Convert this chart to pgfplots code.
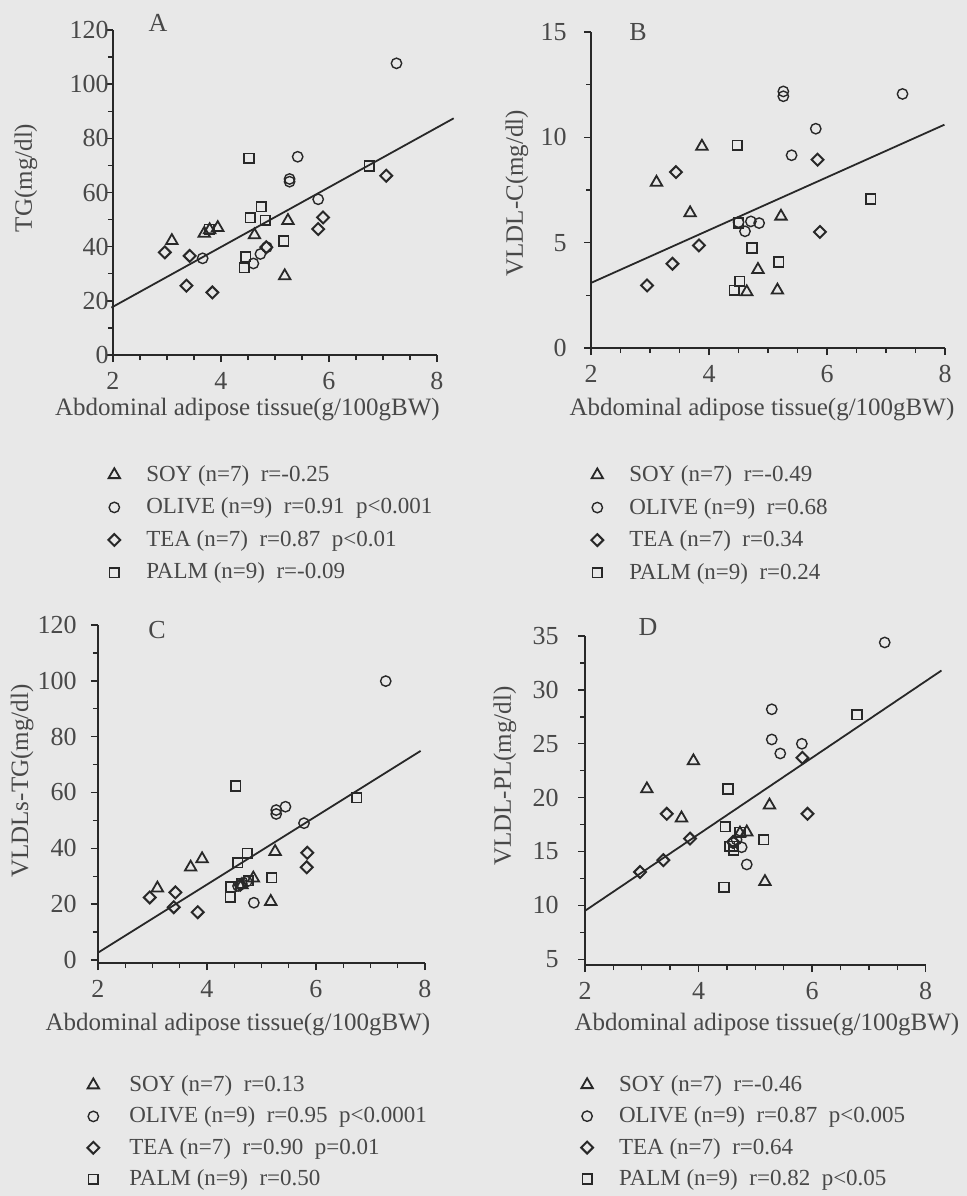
\documentclass[border=0pt]{standalone}
\usepackage{fontspec}
\setmainfont{Liberation Serif}
\usepackage{pgfplots}
\pgfplotsset{compat=1.18}
\definecolor{bg}{RGB}{232,232,232}
\definecolor{ink}{RGB}{40,40,40}
\definecolor{txt}{RGB}{72,72,72}
\pgfplotsset{
  panel/.style={
    scale only axis, axis lines=left, axis line style={-, ink, line width=0.8pt},
    tick align=outside, major tick length=3.5pt, minor tick length=2.5pt,
    tick style={ink, line width=0.7pt},
    xmin=2, xmax=8, xtick={2,4,6,8}, minor x tick num=3, minor y tick num=1,
    clip=false,
    /pgf/number format/assume math mode=true,
    ticklabel style={font=\fontsize{13}{14}\selectfont, text=txt},
    xticklabel style={yshift=-1.5pt},
    label style={font=\fontsize{12.5}{14}\selectfont, text=txt},
    xlabel={Abdominal adipose tissue(g/100gBW)},
    legend style={draw=none, fill=none, font=\fontsize{11.5}{13}\selectfont, text=txt,
      anchor=north west, row sep=6.8pt, nodes={inner sep=0pt},
      /tikz/every odd column/.append style={column sep=13pt}},
    legend cell align=left,
  },
  soy/.style={only marks, mark=triangle, mark size=3.3pt, mark options={draw=ink, line width=0.9pt}},
  olive/.style={only marks, mark=o, mark size=2.6pt, mark options={draw=ink, line width=0.7pt}},
  tea/.style={only marks, mark=square, mark size=2.1pt, mark options={draw=ink, line width=1pt, rotate=45}},
  palm/.style={only marks, mark=square, mark size=2.4pt, mark options={draw=ink, line width=0.8pt}},
  fit/.style={ink, line width=0.9pt, forget plot, mark=none},
}
\begin{document}
\begin{tikzpicture}
\path[use as bounding box, fill=bg] (0,0) rectangle (483.5pt,-598pt);

% Panel A
\begin{axis}[panel, at={(56.5pt,-177.5pt)}, anchor=south west, width=162pt, height=162.5pt,
  ymin=0, ymax=120, ytick={0,20,...,120},
  yticklabel style={inner xsep=0pt, xshift=1.5pt},
  ylabel={TG(mg/dl)},
  xlabel style={at={(axis description cs:0.415,-0.169)}, anchor=center},
  ylabel style={at={(axis description cs:-0.269,0.545)}, anchor=center, rotate=0},
  legend style={at={(axis description cs:-0.034,-0.326)}}]
\addplot[soy] coordinates {(3.09,42.2) (3.69,44.9) (3.79,46.2) (3.94,47.0) (4.62,44.3) (5.24,49.6) (5.18,29.2)};
\addlegendentry{SOY (n=7)\ \ r=-0.25}
\addplot[olive] coordinates {(7.25,107.7) (5.42,73.2) (5.27,65.0) (5.27,64.0) (5.80,57.5) (3.66,35.7) (4.60,33.8) (4.73,37.3) (4.85,39.8)};
\addlegendentry{OLIVE (n=9)\ \ r=0.91\ \ p<0.001}
\addplot[tea] coordinates {(2.96,37.9) (3.42,36.6) (3.36,25.6) (3.84,23.1) (4.84,39.8) (5.80,46.5) (5.89,50.8) (7.06,66.2)};
\addlegendentry{TEA (n=7)\ \ r=0.87\ \ p<0.01}
\addplot[palm] coordinates {(4.52,72.6) (4.75,54.8) (4.54,50.7) (4.82,49.8) (5.16,42.1) (4.46,36.3) (4.43,32.2) (6.75,69.8) (3.78,46.4)};
\addlegendentry{PALM (n=9)\ \ r=-0.09}
\addplot[fit] coordinates {(1.97,17.5) (8.31,87.4)};
\end{axis}

% Panel B
\begin{axis}[panel, at={(295.5pt,-174pt)}, anchor=south west, width=177pt, height=158pt,
  ymin=0, ymax=15, ytick={0,5,10,15},
  yticklabel style={inner xsep=8.5pt},
  ylabel={VLDL-C(mg/dl)},
  xlabel style={at={(axis description cs:0.483,-0.196)}, anchor=center},
  ylabel style={at={(axis description cs:-0.209,0.49)}, anchor=center, rotate=0},
  legend style={at={(axis description cs:-0.017,-0.358)}}]
\addplot[soy] coordinates {(3.11,7.86) (3.88,9.57) (3.68,6.41) (5.22,6.25) (4.83,3.72) (4.64,2.66) (5.16,2.74)};
\addlegendentry{SOY (n=7)\ \ r=-0.49}
\addplot[olive] coordinates {(5.26,12.18) (5.26,11.95) (7.28,12.06) (5.81,10.41) (5.40,9.15) (4.71,6.01) (4.85,5.93) (4.61,5.54) (4.50,5.97)};
\addlegendentry{OLIVE (n=9)\ \ r=0.68}
\addplot[tea] coordinates {(3.44,8.35) (2.95,2.97) (3.38,4.00) (3.83,4.87) (5.84,8.94) (5.88,5.51)};
\addlegendentry{TEA (n=7)\ \ r=0.34}
\addplot[palm] coordinates {(4.48,9.62) (4.50,5.93) (4.73,4.75) (5.18,4.08) (4.52,3.16) (4.43,2.74) (6.74,7.07)};
\addlegendentry{PALM (n=9)\ \ r=0.24}
\addplot[fit] coordinates {(2,3.09) (7.99,10.60)};
\end{axis}

% Panel C
\begin{axis}[panel, at={(49pt,-481.5pt)}, anchor=south west, width=163.5pt, height=169pt,
  ymin=-1.1, ymax=120, ytick={0,20,...,120},
  yticklabel style={inner xsep=7pt},
  ylabel={VLDLs-TG(mg/dl)},
  xlabel style={at={(axis description cs:0.428,-0.183)}, anchor=center},
  ylabel style={at={(axis description cs:-0.232,0.538)}, anchor=center, rotate=0},
  legend style={at={(axis description cs:-0.052,-0.32)}, row sep=6.2pt,
    /tikz/every odd column/.append style={column sep=15pt}}]
\addplot[soy] coordinates {(3.09,25.7) (3.70,33.2) (3.91,36.2) (5.25,38.8) (5.17,20.9) (4.85,29.3) (4.64,26.9)};
\addlegendentry{SOY (n=7)\ \ r=0.13}
\addplot[olive] coordinates {(7.28,99.9) (5.27,53.7) (5.27,52.3) (5.44,54.9) (5.78,49.0) (4.86,20.5) (4.73,28.1) (4.64,27.2) (4.57,26.5)};
\addlegendentry{OLIVE (n=9)\ \ r=0.95\ \ p<0.0001}
\addplot[tea] coordinates {(2.95,22.4) (3.42,24.2) (3.39,18.9) (3.83,17.1) (5.84,38.4) (5.83,33.2) (4.61,26.9)};
\addlegendentry{TEA (n=7)\ \ r=0.90\ \ p=0.01}
\addplot[palm] coordinates {(4.53,62.3) (4.74,38.2) (4.56,34.9) (4.44,26.3) (4.43,22.4) (5.19,29.5) (6.75,58.1) (4.64,27.5) (4.76,28.4)};
\addlegendentry{PALM (n=9)\ \ r=0.50}
\addplot[fit] coordinates {(2,2.6) (7.92,74.9)};
\end{axis}

% Panel D
\begin{axis}[panel, at={(292.5pt,-482.5pt)}, anchor=south west, width=170.3pt, height=164.5pt,
  ymin=4.47, ymax=35, ytick={5,10,...,35},
  yticklabel style={inner xsep=9.5pt},
  ylabel={VLDL-PL(mg/dl)},
  xlabel style={at={(axis description cs:0.534,-0.182)}, anchor=center},
  ylabel style={at={(axis description cs:-0.235,0.574)}, anchor=center, rotate=0},
  legend style={at={(axis description cs:-0.03,-0.322)}, row sep=6.2pt}]
\addplot[soy] coordinates {(3.09,20.8) (3.91,23.4) (3.70,18.1) (5.25,19.3) (5.17,12.2) (4.85,16.8) (4.73,16.7)};
\addlegendentry{SOY (n=7)\ \ r=-0.46}
\addplot[olive] coordinates {(7.28,34.4) (5.29,28.2) (5.29,25.4) (5.44,24.1) (5.82,25.0) (4.85,13.8) (4.76,15.4) (4.61,15.8) (4.67,16.1)};
\addlegendentry{OLIVE (n=9)\ \ r=0.87\ \ p<0.005}
\addplot[tea] coordinates {(2.97,13.1) (3.38,14.2) (3.44,18.5) (3.85,16.2) (5.83,23.7) (5.92,18.5) (4.61,15.9)};
\addlegendentry{TEA (n=7)\ \ r=0.64}
\addplot[palm] coordinates {(4.52,20.8) (6.79,27.7) (4.47,17.3) (4.55,15.5) (4.62,15.1) (5.15,16.1) (4.45,11.7) (4.73,16.8) (4.61,15.5)};
\addlegendentry{PALM (n=9)\ \ r=0.82\ \ p<0.05}
\addplot[fit] coordinates {(2,9.5) (8.28,31.8)};
\end{axis}

\node[text=txt, font=\fontsize{13}{14}\selectfont] at (79pt,-11.5pt) {A};
\node[text=txt, font=\fontsize{13}{14}\selectfont] at (319pt,-16pt) {B};
\node[text=txt, font=\fontsize{13}{14}\selectfont] at (78.5pt,-315pt) {C};
\node[text=txt, font=\fontsize{13}{14}\selectfont] at (324pt,-313.5pt) {D};
\end{tikzpicture}
\end{document}
